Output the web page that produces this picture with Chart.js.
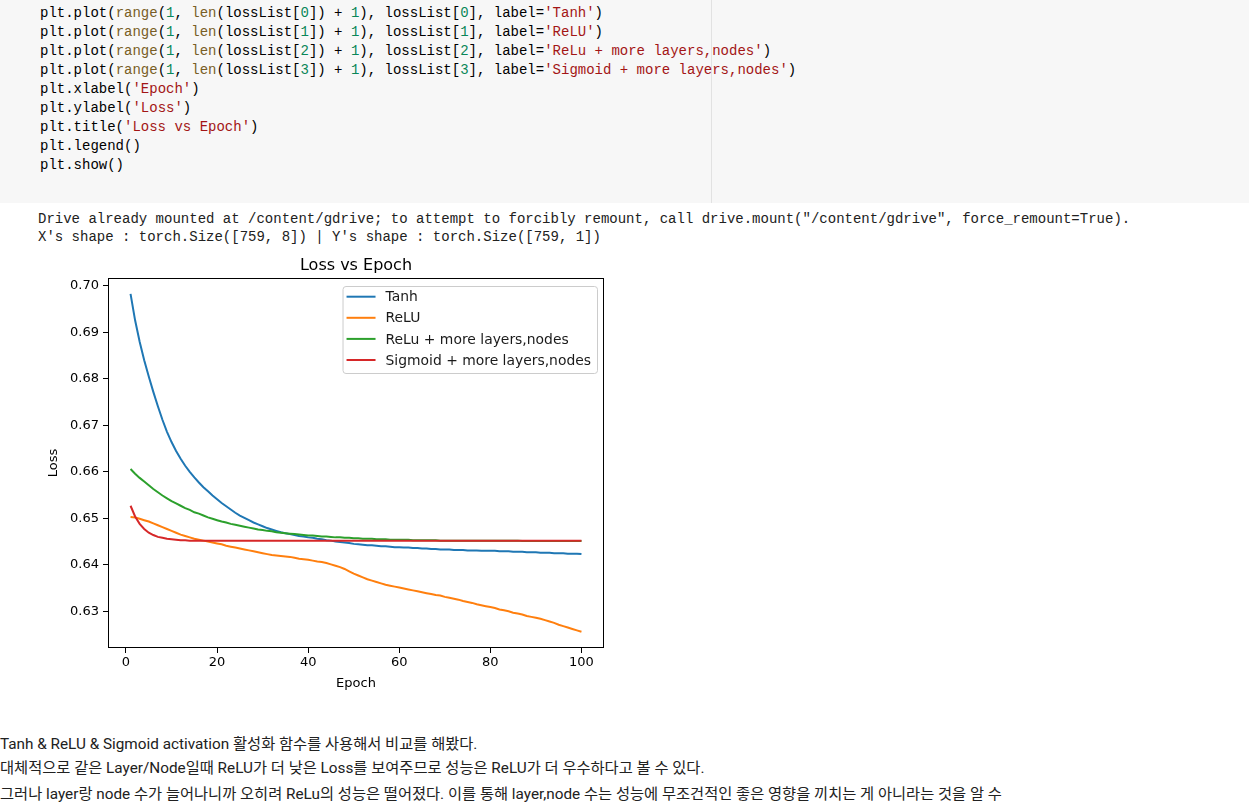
<!DOCTYPE html>
<html>
<head>
<meta charset="utf-8">
<script src="https://cdn.jsdelivr.net/npm/chart.js@4.4.0/dist/chart.umd.min.js"></script>
<style>
html,body{margin:0;padding:0;background:#fff;width:1249px;height:809px;overflow:hidden;position:relative}
.codecell{position:absolute;left:0;top:0;width:1249px;height:203px;background:#f7f7f7}
.vline{position:absolute;left:711px;top:0;width:1px;height:203px;background:#e2e2e2}
.mono{position:absolute;margin:0;font-family:'Liberation Mono','DejaVu Sans Mono',monospace;font-size:14px;white-space:pre;color:#000}
.code{left:40px;top:4px;line-height:18.93px}
.out{left:38px;top:210px;line-height:18px;color:#212121}
.fn{color:#795e26}.num{color:#098658}.str{color:#a31515}
.txt{position:absolute;left:0;font-family:Roboto,'Noto Sans CJK KR',sans-serif;font-size:15.3px;line-height:20px;color:#212121;white-space:nowrap}
#chartWrap{position:absolute;left:0;top:245px;width:640px;height:460px}
</style>
</head>
<body>
<div class="codecell"></div>
<div class="vline"></div>
<pre class="mono code">plt.plot(<span class="fn">range</span>(<span class="num">1</span>, <span class="fn">len</span>(lossList[<span class="num">0</span>]) + <span class="num">1</span>), lossList[<span class="num">0</span>], label=<span class="str">'Tanh'</span>)
plt.plot(<span class="fn">range</span>(<span class="num">1</span>, <span class="fn">len</span>(lossList[<span class="num">1</span>]) + <span class="num">1</span>), lossList[<span class="num">1</span>], label=<span class="str">'ReLU'</span>)
plt.plot(<span class="fn">range</span>(<span class="num">1</span>, <span class="fn">len</span>(lossList[<span class="num">2</span>]) + <span class="num">1</span>), lossList[<span class="num">2</span>], label=<span class="str">'ReLu + more layers,nodes'</span>)
plt.plot(<span class="fn">range</span>(<span class="num">1</span>, <span class="fn">len</span>(lossList[<span class="num">3</span>]) + <span class="num">1</span>), lossList[<span class="num">3</span>], label=<span class="str">'Sigmoid + more layers,nodes'</span>)
plt.xlabel(<span class="str">'Epoch'</span>)
plt.ylabel(<span class="str">'Loss'</span>)
plt.title(<span class="str">'Loss vs Epoch'</span>)
plt.legend()
plt.show()</pre>
<pre class="mono out">Drive already mounted at /content/gdrive; to attempt to forcibly remount, call drive.mount("/content/gdrive", force_remount=True).
X's shape : torch.Size([759, 8]) | Y's shape : torch.Size([759, 1])</pre>
<div id="chartWrap"><canvas id="c" width="640" height="460"></canvas></div>
<div class="txt" style="top:734px">Tanh &amp; ReLU &amp; Sigmoid activation 활성화 함수를 사용해서 비교를 해봤다.</div>
<div class="txt" style="top:758px">대체적으로 같은 Layer/Node일때 ReLU가 더 낮은 Loss를 보여주므로 성능은 ReLU가 더 우수하다고 볼 수 있다.</div>
<div class="txt" style="top:784px">그러나 layer랑 node 수가 늘어나니까 오히려 ReLu의 성능은 떨어졌다. 이를 통해 layer,node 수는 성능에 무조건적인 좋은 영향을 끼치는 게 아니라는 것을 알 수</div>
<script>
const chartTitle = 'Loss vs Epoch';
const xLabel = 'Epoch';
const yLabel = 'Loss';
const seriesNames = ['Tanh', 'ReLU', 'ReLu + more layers,nodes', 'Sigmoid + more layers,nodes'];
const seriesColors = ['#1f77b4', '#ff7f0e', '#2ca02c', '#d62728'];
const xTicks = [0, 20, 40, 60, 80, 100];
const yTicks = [0.63, 0.64, 0.65, 0.66, 0.67, 0.68, 0.69, 0.70];
const epochs = [1,2,3,4,5,6,7,8,9,10,11,12,13,14,15,16,17,18,19,20,21,22,23,24,25,26,27,28,29,30,31,32,33,34,35,36,37,38,39,40,41,42,43,44,45,46,47,48,49,50,51,52,53,54,55,56,57,58,59,60,61,62,63,64,65,66,67,68,69,70,71,72,73,74,75,76,77,78,79,80,81,82,83,84,85,86,87,88,89,90,91,92,93,94,95,96,97,98,99,100];
const lossTanh = [0.6983,0.6926,0.6880,0.6840,0.6805,0.6772,0.6741,0.6712,0.6686,0.6664,
0.6645,0.6628,0.6613,0.6600,0.6588,0.6577,0.6567,0.6558,0.6549,0.6541,
0.6533,0.6526,0.6519,0.6512,0.6506,0.6501,0.6496,0.6491,0.6487,0.6483,
0.6479,0.6476,0.6473,0.6470,0.6468,0.6466,0.6464,0.6462,0.6461,0.6459,
0.6458,0.6456,0.6455,0.6453,0.6452,0.6450,0.6449,0.6448,0.6447,0.6445,
0.6444,0.6443,0.6442,0.6442,0.6441,0.6440,0.6440,0.6439,0.6438,0.6438,
0.6437,0.6437,0.6436,0.6436,0.6435,0.6435,0.6434,0.6434,0.6433,0.6433,
0.6433,0.6432,0.6432,0.6432,0.6431,0.6431,0.6431,0.6430,0.6430,0.6430,
0.6430,0.6429,0.6429,0.6429,0.6428,0.6428,0.6428,0.6427,0.6427,0.6427,
0.6426,0.6426,0.6426,0.6425,0.6425,0.6425,0.6424,0.6424,0.6424,0.6423];
const lossRelu = [0.6503,0.6502,0.6499,0.6496,0.6493,0.6489,0.6485,0.6481,0.6477,0.6473,
0.6469,0.6465,0.6462,0.6459,0.6456,0.6454,0.6452,0.6450,0.6448,0.6446,
0.6444,0.6441,0.6439,0.6437,0.6435,0.6433,0.6431,0.6429,0.6427,0.6425,
0.6423,0.6421,0.6420,0.6419,0.6418,0.6417,0.6415,0.6413,0.6412,0.6411,
0.6409,0.6407,0.6406,0.6404,0.6401,0.6398,0.6395,0.6391,0.6386,0.6381,
0.6377,0.6373,0.6369,0.6366,0.6363,0.6360,0.6357,0.6355,0.6353,0.6351,
0.6349,0.6347,0.6345,0.6343,0.6341,0.6339,0.6337,0.6335,0.6334,0.6331,
0.6329,0.6327,0.6325,0.6322,0.6320,0.6318,0.6315,0.6313,0.6311,0.6309,
0.6307,0.6304,0.6302,0.6300,0.6297,0.6295,0.6293,0.6290,0.6288,0.6286,
0.6284,0.6281,0.6278,0.6275,0.6271,0.6268,0.6265,0.6262,0.6259,0.6256];
const lossReluMore = [0.6606,0.6596,0.6587,0.6579,0.6571,0.6563,0.6556,0.6549,0.6543,0.6537,
0.6532,0.6527,0.6522,0.6518,0.6513,0.6510,0.6506,0.6502,0.6499,0.6496,
0.6493,0.6491,0.6488,0.6486,0.6484,0.6482,0.6480,0.6478,0.6476,0.6475,
0.6473,0.6472,0.6470,0.6469,0.6468,0.6467,0.6466,0.6465,0.6464,0.6463,
0.6463,0.6462,0.6461,0.6461,0.6460,0.6459,0.6459,0.6458,0.6458,0.6457,
0.6457,0.6456,0.6456,0.6456,0.6455,0.6455,0.6455,0.6454,0.6454,0.6454,
0.6454,0.6454,0.6453,0.6453,0.6453,0.6453,0.6453,0.6453,0.6452,0.6452,
0.6452,0.6452,0.6452,0.6452,0.6452,0.6452,0.6452,0.6452,0.6452,0.6452,
0.6452,0.6452,0.6452,0.6452,0.6452,0.6452,0.6451,0.6451,0.6451,0.6451,
0.6451,0.6451,0.6451,0.6451,0.6451,0.6451,0.6451,0.6451,0.6451,0.6451];
const lossSigmoidMore = [0.6527,0.6504,0.6488,0.6477,0.6469,0.6464,0.6460,0.6458,0.6456,0.6455,
0.6454,0.6453,0.6453,0.6452,0.6452,0.6452,0.6452,0.6452,0.6452,0.6452,
0.6452,0.6452,0.6452,0.6452,0.6452,0.6452,0.6452,0.6452,0.6452,0.6452,
0.6452,0.6452,0.6452,0.6452,0.6452,0.6452,0.6452,0.6452,0.6452,0.6452,
0.6452,0.6452,0.6452,0.6452,0.6452,0.6452,0.6452,0.6452,0.6452,0.6452,
0.6452,0.6452,0.6452,0.6452,0.6452,0.6452,0.6452,0.6452,0.6452,0.6452,
0.6452,0.6452,0.6452,0.6452,0.6452,0.6452,0.6452,0.6452,0.6452,0.6452,
0.6452,0.6452,0.6452,0.6452,0.6452,0.6452,0.6452,0.6452,0.6452,0.6452,
0.6452,0.6452,0.6452,0.6452,0.6452,0.6452,0.6452,0.6452,0.6452,0.6452,
0.6452,0.6452,0.6452,0.6452,0.6452,0.6452,0.6452,0.6452,0.6452,0.6452];

const allSeries = [lossTanh, lossRelu, lossReluMore, lossSigmoidMore];
const FONT = "'DejaVu Sans', sans-serif";

const datasets = allSeries.map((vals, i) => ({
  label: seriesNames[i],
  data: vals.map((v, j) => ({x: epochs[j], y: v})),
  borderColor: seriesColors[i],
  backgroundColor: seriesColors[i],
  borderWidth: 2,
  pointRadius: 0,
  tension: 0,
  fill: false,
  order: allSeries.length - i
}));

const framePlugin = {
  id: 'frameAndLegend',
  afterDatasetsDraw(chart) {
    const {ctx, chartArea: a} = chart;
    ctx.save();
    ctx.strokeStyle = '#000';
    ctx.lineWidth = 1;
    ctx.strokeRect(Math.round(a.left) + 0.5, Math.round(a.top) + 0.5, Math.round(a.right - a.left) - 1, Math.round(a.bottom - a.top) - 1);
    // title centred over the plot area
    ctx.fillStyle = '#000';
    ctx.font = '16px ' + FONT;
    ctx.textAlign = 'center';
    ctx.textBaseline = 'middle';
    ctx.fillText(chartTitle, (a.left + a.right) / 2, a.top - 12);
    // legend
    ctx.font = '13.9px ' + FONT;
    ctx.textAlign = 'left';
    let maxW = 0;
    chart.data.datasets.forEach(d => { maxW = Math.max(maxW, ctx.measureText(d.label).width); });
    const boxW = 43 + maxW + 6;
    const boxH = 87;
    const bx = a.right - 7 - boxW;
    const by = a.top + 8;
    ctx.beginPath();
    ctx.roundRect(bx + 0.5, by + 0.5, boxW, boxH, 3);
    ctx.fillStyle = 'rgba(255,255,255,0.8)';
    ctx.fill();
    ctx.strokeStyle = '#cccccc';
    ctx.stroke();
    chart.data.datasets.forEach((d, i) => {
      const y = by + 10.7 + i * 21.1;
      ctx.beginPath();
      ctx.strokeStyle = d.borderColor;
      ctx.lineWidth = 2;
      ctx.moveTo(bx + 4, y);
      ctx.lineTo(bx + 33, y);
      ctx.stroke();
      ctx.fillStyle = '#1a1a1a';
      ctx.fillText(d.label, bx + 43, y + 1);
    });
    ctx.restore();
  }
};

new Chart(document.getElementById('c'), {
  type: 'line',
  data: {datasets},
  options: {
    responsive: false,
    animation: false,
    devicePixelRatio: 1,
    layout: {padding: {left: 0, right: 36, top: 33, bottom: 0}},
    plugins: {
      legend: {display: false},
      tooltip: {enabled: false},
      title: {display: false}
    },
    scales: {
      x: {
        type: 'linear',
        min: -3.95, max: 104.95,
        bounds: 'data',
        afterFit(s) { s.height = 57; },
        afterBuildTicks(s) { s.ticks = xTicks.map(v => ({value: v})); },
        ticks: {color: '#000', font: {family: FONT, size: 13}, padding: 2, maxRotation: 0, autoSkip: false, callback: v => String(v)},
        grid: {drawOnChartArea: false, drawTicks: true, tickLength: 5, color: '#000', lineWidth: 1},
        border: {display: false},
        title: {display: true, text: xLabel, color: '#000', font: {family: FONT, size: 13}, padding: {top: 0, bottom: 14}}
      },
      y: {
        type: 'linear',
        min: 0.6221, max: 0.7017,
        bounds: 'data',
        afterFit(s) { s.width = 108; },
        afterBuildTicks(s) { s.ticks = yTicks.map(v => ({value: v})); },
        ticks: {color: '#000', font: {family: FONT, size: 13}, padding: 4, callback: v => v.toFixed(2)},
        grid: {drawOnChartArea: false, drawTicks: true, tickLength: 5, color: '#000', lineWidth: 1},
        border: {display: false},
        title: {display: true, text: yLabel, color: '#000', font: {family: FONT, size: 13}, padding: {top: 46, bottom: 0}}
      }
    }
  },
  plugins: [framePlugin]
});
</script>
</body>
</html>
